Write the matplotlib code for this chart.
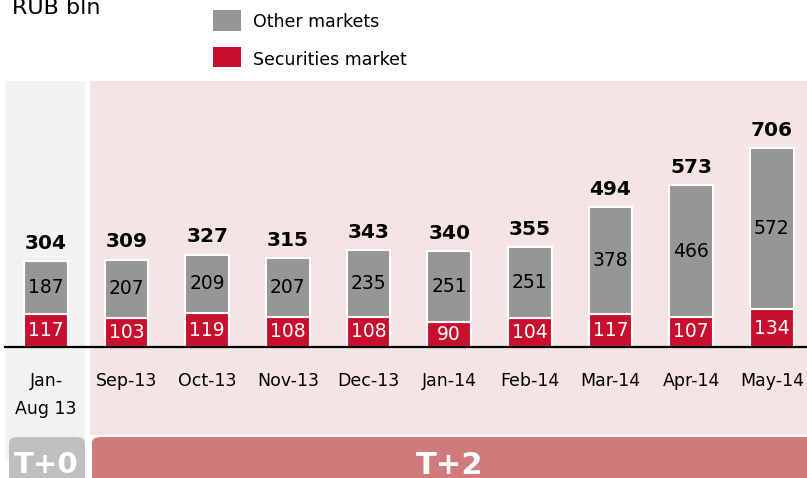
import matplotlib.pyplot as plt
from matplotlib.patches import Rectangle, FancyBboxPatch

# =========================
# DATA
# =========================

categories = ['Jan-\nAug 13', 'Sep-13', 'Oct-13', 'Nov-13', 'Dec-13',
              'Jan-14', 'Feb-14', 'Mar-14', 'Apr-14', 'May-14']
securities = [117, 103, 119, 108, 108, 90, 104, 117, 107, 134]
other = [187, 207, 209, 207, 235, 251, 251, 378, 466, 572]
totals = [304, 309, 327, 315, 343, 340, 355, 494, 573, 706]

GREY = '#969696'
RED = '#c8102e'

W, H = 807, 478

fig = plt.figure(figsize=(W / 100, H / 100), dpi=100)
ax = fig.add_axes([0, 0, 1, 1])
ax.set_xlim(-0.570, 9.436)
ax.set_ylim(-464.5, 1230.5)
ax.axis('off')


def px(x, y):
    # pixel (from top-left) -> figure fraction
    return x / W, 1 - y / H


def rect(x0, y0, x1, y1, color, rounded=False, z=0):
    fx, fy = px(x0, y1)
    w, h = (x1 - x0) / W, (y1 - y0) / H
    if rounded:
        p = FancyBboxPatch((fx, fy), w, h, boxstyle='round,pad=0,rounding_size=0.012',
                           transform=fig.transFigure, facecolor=color,
                           edgecolor='none', zorder=z, clip_on=False)
    else:
        p = Rectangle((fx, fy), w, h, transform=fig.transFigure,
                      facecolor=color, edgecolor='none', zorder=z, clip_on=False)
    ax.add_patch(p)


# background panels
rect(5, 81, 85, 460, '#f2f2f2')
rect(90, 81, 807, 435, '#f5e4e4')
rect(9, 437, 85, 492, '#bfbfbf', rounded=True)
rect(92, 437, 820, 492, '#cf7b7b', rounded=True)

fig.text(*px(46, 465), 'T+0', ha='center', va='center', color='white',
         fontsize=21, fontweight='bold')
fig.text(*px(450, 465), 'T+2', ha='center', va='center', color='white',
         fontsize=22, fontweight='bold')

# bars
x = range(len(categories))
ax.bar(x, securities, width=0.54, color=RED, edgecolor='white', linewidth=1.5, zorder=2)
ax.bar(x, other, width=0.54, bottom=securities, color=GREY, edgecolor='white',
       linewidth=1.5, zorder=2)

ax.plot([-0.51, 9.436], [0, 0], color='black', linewidth=1.6, zorder=3)

for i in x:
    ax.text(i, securities[i] / 2, str(securities[i]), ha='center', va='center',
            color='white', fontsize=13.5, zorder=4)
    ax.text(i, securities[i] + other[i] / 2, str(other[i]), ha='center', va='center',
            color='black', fontsize=13.5, zorder=4)
    ax.annotate(str(totals[i]), (i, securities[i] + other[i]), xytext=(0, 6),
                textcoords='offset points', ha='center', va='bottom',
                fontsize=14.5, fontweight='bold', zorder=4)
    ax.text(i, -88, categories[i], ha='center', va='top', fontsize=12.5,
            linespacing=1.7, zorder=4)

# unit + legend
fig.text(*px(12, 8), 'RUB bln', ha='left', va='center', fontsize=16)
rect(213, 10, 241, 31, GREY, z=5)
rect(213, 47, 241, 67, RED, z=5)
fig.text(*px(253, 22), 'Other markets', ha='left', va='center', fontsize=12.5)
fig.text(*px(253, 60), 'Securities market', ha='left', va='center', fontsize=12.5)

fig.savefig('out.png', dpi=100)
